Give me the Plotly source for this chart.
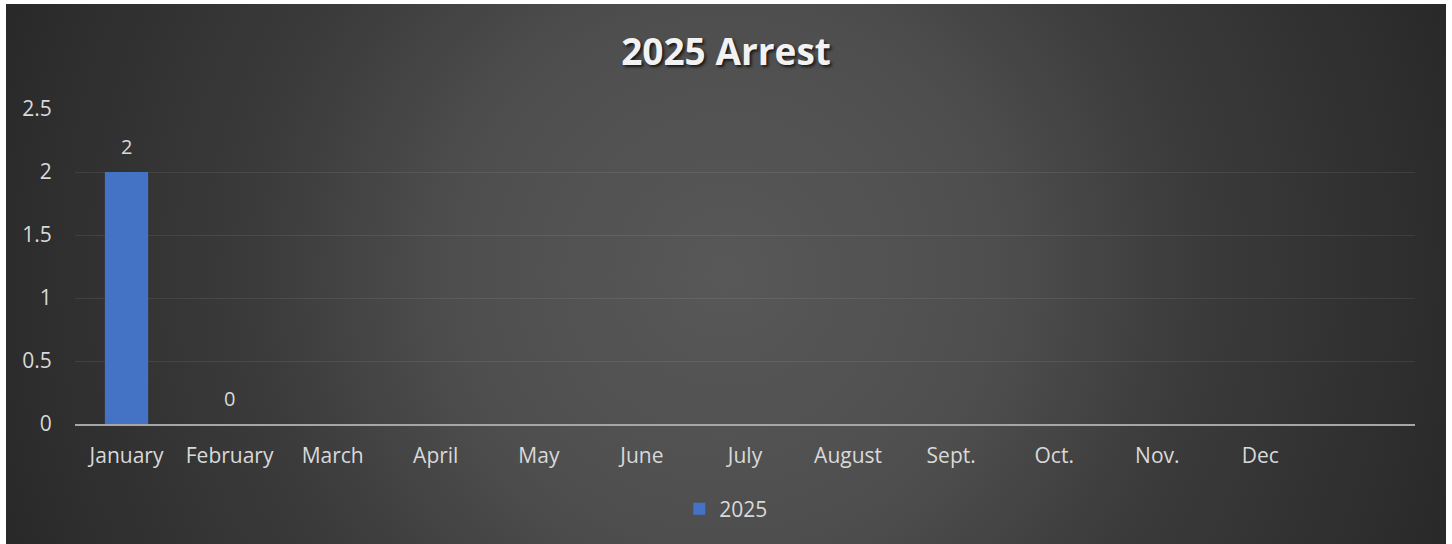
import base64
import plotly.graph_objects as go

# ---- data ----
months = ["January", "February", "March", "April", "May", "June",
          "July", "August", "Sept.", "Oct.", "Nov.", "Dec"]
arrests_2025 = [2, 0, None, None, None, None, None, None, None, None, None, None]
series_name = "2025"
title_text = "2025 Arrest"
y_ticks = [0, 0.5, 1, 1.5, 2, 2.5]
y_tick_labels = ["0", "0.5", "1", "1.5", "2", "2.5"]

W, H = 1452, 544
FONT = "Open Sans"
TXT = "#d9d9d9"

x_pos = list(range(len(months)))

fig = go.Figure()
fig.add_trace(go.Bar(
    x=x_pos, y=arrests_2025, name=series_name,
    width=0.42,
    marker=dict(color="#4472c4", line=dict(width=0)),
    showlegend=True,
))

# data labels
for i, v in enumerate(arrests_2025):
    if v is not None:
        fig.add_annotation(x=i, y=v, text=str(v), showarrow=False,
                           yshift=26, font=dict(family=FONT, size=20, color=TXT))

# radial gradient background via inline SVG
svg = (
    "<svg xmlns='http://www.w3.org/2000/svg' width='1440' height='540' "
    "viewBox='0 0 1440 540' preserveAspectRatio='none'>"
    "<defs><radialGradient id='g' gradientUnits='userSpaceOnUse' cx='720' cy='270' r='780'>"
    "<stop offset='0' stop-color='#585858'/>"
    "<stop offset='0.35' stop-color='#4e4e4e'/>"
    "<stop offset='0.6' stop-color='#3b3b3b'/>"
    "<stop offset='0.92' stop-color='#2c2c2c'/>"
    "<stop offset='1' stop-color='#282828'/>"
    "</radialGradient></defs>"
    "<rect x='0' y='0' width='1440' height='540' fill='url(#g)'/></svg>"
)
src = "data:image/svg+xml;base64," + base64.b64encode(svg.encode()).decode()
fig.add_layout_image(dict(
    source=src, xref="paper", yref="paper",
    x=(6 - 75) / 1340, y=1 + 105 / 315,
    sizex=1440 / 1340, sizey=540 / 315,
    xanchor="left", yanchor="top", sizing="stretch", layer="below",
))

fig.update_layout(
    width=W, height=H,
    margin=dict(l=75, r=37, t=109, b=120),
    paper_bgcolor="white",
    plot_bgcolor="rgba(0,0,0,0)",
    title=dict(text=title_text, x=0.5, xref="container", xanchor="center",
               y=1 - 52 / H, yref="container", yanchor="middle",
               font=dict(family=FONT, size=37, color="#f2f2f2", weight="bold",
                         shadow="2px 2px 3px rgba(0,0,0,0.7)")),
    legend=dict(orientation="h", x=0.486, xanchor="center", y=-0.27, yanchor="middle",
                font=dict(family=FONT, size=21, color=TXT),
                bgcolor="rgba(0,0,0,0)", itemwidth=30),
    xaxis=dict(range=[-0.5, 12.5], tickvals=x_pos, ticktext=months,
               showgrid=False, zeroline=False,
               showline=True, linecolor="#a6a6a6", linewidth=2,
               ticks="outside", ticklen=12, tickcolor="rgba(0,0,0,0)",
               tickfont=dict(family=FONT, size=21, color=TXT), fixedrange=True),
    yaxis=dict(range=[0, 2.5], tickvals=y_ticks, ticktext=y_tick_labels,
               showgrid=True, gridcolor="rgba(255,255,255,0.08)", gridwidth=1,
               zeroline=False, showline=False,
               ticks="outside", ticklen=18, tickcolor="rgba(0,0,0,0)",
               tickfont=dict(family=FONT, size=21, color=TXT), fixedrange=True),
)

fig.write_html("out.html", config={"displayModeBar": False},
               post_script="document.body.style.margin='0';document.body.style.padding='0';")
